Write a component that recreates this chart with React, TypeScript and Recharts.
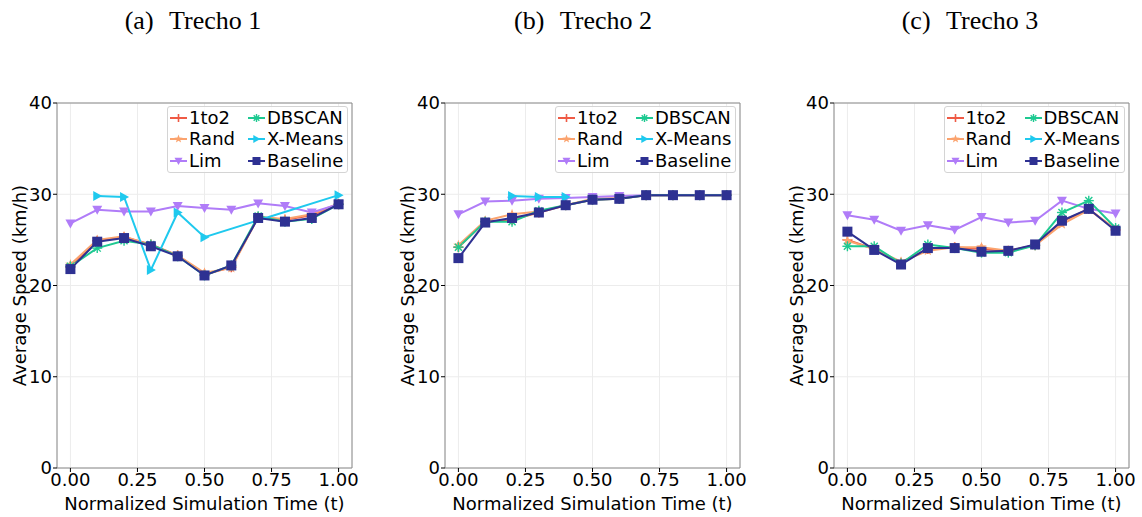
import React from "react";
import {
  CartesianGrid,
  Label,
  Legend,
  Line,
  LineChart,
  ReferenceArea,
  XAxis,
  YAxis,
} from "recharts";

const FONT = '"DejaVu Sans", sans-serif';

const times = [0, 0.1, 0.2, 0.3, 0.4, 0.5, 0.6, 0.7, 0.8, 0.9, 1.0];
const xTicks = [0, 0.25, 0.5, 0.75, 1];
const yTicks = [0, 10, 20, 30, 40];

const seriesKeys = ["s1to2", "rand", "lim", "dbscan", "xmeans", "baseline"];
const seriesNames = ["1to2", "Rand", "Lim", "DBSCAN", "X-Means", "Baseline"];
const seriesColors = ["#ef5a45", "#fba36e", "#b07cf8", "#1ec991", "#1fc9ee", "#2e3192"];
const seriesMarkers = ["plus", "star", "triDown", "asterisk", "triRight", "square"];

// Trecho 1
const t1_1to2 = [22.0, 24.9, 25.3, 24.5, 23.3, 21.2, 22.0, 27.5, 27.2, 27.7, 28.9];
const t1_rand = [22.3, 25.0, 25.4, 24.4, 23.3, 21.4, 21.9, 27.5, 27.3, 27.8, 29.0];
const t1_lim = [26.8, 28.3, 28.1, 28.1, 28.7, 28.5, 28.3, 29.0, 28.7, 28.0, 28.9];
const t1_dbscan = [22.1, 24.1, 24.9, 24.5, 23.2, 21.1, 22.2, 27.6, 27.0, 27.3, 28.9];
const t1_xmeans = [null, 29.8, 29.7, 21.7, 28.0, 25.3, null, null, null, null, 29.9];
const t1_baseline = [21.8, 24.8, 25.2, 24.3, 23.2, 21.1, 22.2, 27.4, 27.0, 27.4, 28.9];

// Trecho 2
const t2_1to2 = [24.2, 27.0, 27.2, 28.0, 28.8, 29.4, 29.5, 29.9, 29.9, 29.9, 29.9];
const t2_rand = [24.4, 27.1, 27.8, 28.1, 28.8, 29.5, 29.6, 29.9, 29.9, 29.9, 29.9];
const t2_lim = [27.8, 29.2, 29.3, 29.5, 29.6, 29.7, 29.8, 29.9, 29.9, 29.9, 29.9];
const t2_dbscan = [24.2, 27.0, 27.0, 28.2, 28.8, 29.4, 29.5, 29.9, 29.9, 29.9, 29.9];
const t2_xmeans = [null, null, 29.8, 29.7, 29.7, null, null, null, null, null, null];
const t2_baseline = [23.0, 26.9, 27.4, 28.0, 28.8, 29.4, 29.5, 29.9, 29.9, 29.9, 29.9];

// Trecho 3
const t3_1to2 = [25.0, 24.0, 22.5, 24.0, 24.2, 24.0, 23.8, 24.4, 27.0, 28.4, 26.1];
const t3_rand = [24.9, 24.0, 22.6, 23.8, 24.2, 24.2, 23.8, 24.4, 26.7, 28.3, 26.2];
const t3_lim = [27.7, 27.2, 26.0, 26.6, 26.1, 27.5, 26.9, 27.1, 29.3, 28.4, 27.9];
const t3_dbscan = [24.3, 24.3, 22.4, 24.5, 24.1, 23.6, 23.6, 24.4, 28.0, 29.3, 26.3];
const t3_xmeans = [null, null, null, null, null, null, null, null, null, null, null];
const t3_baseline = [25.9, 23.9, 22.3, 24.1, 24.1, 23.7, 23.8, 24.5, 27.1, 28.4, 26.0];

function buildRows(series: (number | null)[][]) {
  return times.map((t, i) => {
    const row: Record<string, number | null> = { t };
    seriesKeys.forEach((k, j) => {
      row[k] = series[j][i];
    });
    return row;
  });
}

const panels = [
  {
    label: "(a)",
    title: "Trecho 1",
    left: 1,
    titleX: 193,
    rows: buildRows([t1_1to2, t1_rand, t1_lim, t1_dbscan, t1_xmeans, t1_baseline]),
  },
  {
    label: "(b)",
    title: "Trecho 2",
    left: 389,
    titleX: 583,
    rows: buildRows([t2_1to2, t2_rand, t2_lim, t2_dbscan, t2_xmeans, t2_baseline]),
  },
  {
    label: "(c)",
    title: "Trecho 3",
    left: 777.5,
    titleX: 970,
    rows: buildRows([t3_1to2, t3_rand, t3_lim, t3_dbscan, t3_xmeans, t3_baseline]),
  },
];

function Marker({ kind, cx, cy, color, size }: { kind: string; cx: number; cy: number; color: string; size: number }) {
  const h = size / 2;
  switch (kind) {
    case "plus":
      return (
        <g stroke={color} strokeWidth={1.6}>
          <line x1={cx - h} y1={cy} x2={cx + h} y2={cy} />
          <line x1={cx} y1={cy - h} x2={cx} y2={cy + h} />
        </g>
      );
    case "star": {
      const pts: string[] = [];
      for (let i = 0; i < 10; i++) {
        const r = i % 2 === 0 ? h * 1.1 : h * 0.45;
        const a = -Math.PI / 2 + (i * Math.PI) / 5;
        pts.push(`${cx + r * Math.cos(a)},${cy + r * Math.sin(a)}`);
      }
      return <polygon points={pts.join(" ")} fill={color} />;
    }
    case "triDown":
      return (
        <polygon
          points={`${cx - h},${cy - h * 0.8} ${cx + h},${cy - h * 0.8} ${cx},${cy + h}`}
          fill={color}
        />
      );
    case "triRight":
      return (
        <polygon
          points={`${cx - h * 0.8},${cy - h} ${cx - h * 0.8},${cy + h} ${cx + h},${cy}`}
          fill={color}
        />
      );
    case "asterisk":
      return (
        <g stroke={color} strokeWidth={1.4}>
          {[0, 45, 90, 135].map((deg) => {
            const a = (deg * Math.PI) / 180;
            return (
              <line
                key={deg}
                x1={cx - h * Math.cos(a)}
                y1={cy - h * Math.sin(a)}
                x2={cx + h * Math.cos(a)}
                y2={cy + h * Math.sin(a)}
              />
            );
          })}
        </g>
      );
    default:
      return <rect x={cx - h} y={cy - h} width={size} height={size} fill={color} />;
  }
}

function makeDot(kind: string, color: string, size: number) {
  return (props: any) => {
    const { cx, cy, index, value } = props;
    if (cx == null || cy == null || value == null) return <g key={index} />;
    return (
      <g key={index}>
        <Marker kind={kind} cx={cx} cy={cy} color={color} size={size} />
      </g>
    );
  };
}

function LegendBox() {
  return (
    <div
      style={{
        position: "relative",
        width: 181,
        height: 67,
        boxSizing: "border-box",
        border: "1px solid #d4d4d4",
        borderRadius: 3,
        background: "rgba(255,255,255,0.85)",
        fontFamily: FONT,
        fontSize: 18,
        color: "#000",
      }}
    >
      {seriesNames.map((name, i) => {
        const col = Math.floor(i / 3);
        const row = i % 3;
        const cy = 11 + 21.3 * row;
        const iconLeft = 2 + col * 78;
        return (
          <React.Fragment key={name}>
            <svg
              width={17}
              height={12}
              style={{ position: "absolute", left: iconLeft, top: cy - 6 }}
            >
              <line x1={0} y1={6} x2={17} y2={6} stroke={seriesColors[i]} strokeWidth={2} />
              <Marker kind={seriesMarkers[i]} cx={8.5} cy={6} color={seriesColors[i]} size={8} />
            </svg>
            <div
              style={{
                position: "absolute",
                left: 21 + col * 78,
                top: cy - 9,
                lineHeight: "18px",
                whiteSpace: "nowrap",
              }}
            >
              {name}
            </div>
          </React.Fragment>
        );
      })}
    </div>
  );
}

function Panel({ rows, left }: { rows: Record<string, number | null>[]; left: number }) {
  return (
    <div style={{ position: "absolute", left, top: 93 }}>
      <LineChart width={361} height={435} data={rows} margin={{ top: 10, right: 10, bottom: 0, left: 0 }}>
        <CartesianGrid stroke="#ececec" />
        <ReferenceArea x1={-0.05} x2={1.05} y1={0} y2={40} fill="none" stroke="#8a8a8a" strokeWidth={1} />
        <XAxis
          dataKey="t"
          type="number"
          domain={[-0.05, 1.05]}
          ticks={xTicks}
          interval={0}
          tickFormatter={(v: number) => v.toFixed(2)}
          axisLine={false}
          tickLine={{ stroke: "#000" }}
          tickSize={4}
          tickMargin={1}
          height={60}
          tick={{ fill: "#000", fontSize: 18, fontFamily: FONT }}
        >
          <Label
            content={({ viewBox }: any) => (
              <text
                x={viewBox.x + viewBox.width / 2}
                y={viewBox.y + 42}
                textAnchor="middle"
                fontSize={18}
                fontFamily={FONT}
                fill="#000"
              >
                Normalized Simulation Time (t)
              </text>
            )}
          />
        </XAxis>
        <YAxis
          type="number"
          domain={[0, 40]}
          ticks={yTicks}
          interval={0}
          axisLine={false}
          tickLine={{ stroke: "#000" }}
          tickSize={4}
          tickMargin={1}
          width={56}
          tick={{ fill: "#000", fontSize: 18, fontFamily: FONT }}
        >
          <Label
            content={({ viewBox }: any) => {
              const x = viewBox.x + 18;
              const y = viewBox.y + viewBox.height / 2;
              return (
                <text
                  x={x}
                  y={y}
                  transform={`rotate(-90 ${x} ${y})`}
                  textAnchor="middle"
                  dominantBaseline="central"
                  fontSize={18}
                  fontFamily={FONT}
                  fill="#000"
                >
                  Average Speed (km/h)
                </text>
              );
            }}
          />
        </YAxis>
        <Legend
          layout="vertical"
          align="center"
          verticalAlign="middle"
          wrapperStyle={{ top: 13, right: 14 }}
          content={() => <LegendBox />}
        />
        {seriesKeys.map((k, i) => (
          <Line
            key={k}
            dataKey={k}
            name={seriesNames[i]}
            stroke={seriesColors[i]}
            strokeWidth={2}
            connectNulls
            isAnimationActive={false}
            dot={makeDot(seriesMarkers[i], seriesColors[i], 10)}
            activeDot={false}
          />
        ))}
      </LineChart>
    </div>
  );
}

export default function App() {
  return (
    <div
      style={{
        position: "absolute",
        left: 0,
        top: 0,
        width: 1142,
        height: 517,
        background: "#fff",
        overflow: "hidden",
      }}
    >
      {panels.map((p) => (
        <React.Fragment key={p.title}>
          <div
            style={{
              position: "absolute",
              left: p.titleX,
              top: 8,
              transform: "translateX(-50%)",
              fontFamily: '"Liberation Serif", serif',
              fontSize: 26,
              lineHeight: "26px",
              whiteSpace: "nowrap",
              color: "#000",
            }}
          >
            <span style={{ wordSpacing: 9 }}>{p.label} </span>
            {p.title}
          </div>
          <Panel rows={p.rows} left={p.left} />
        </React.Fragment>
      ))}
    </div>
  );
}
